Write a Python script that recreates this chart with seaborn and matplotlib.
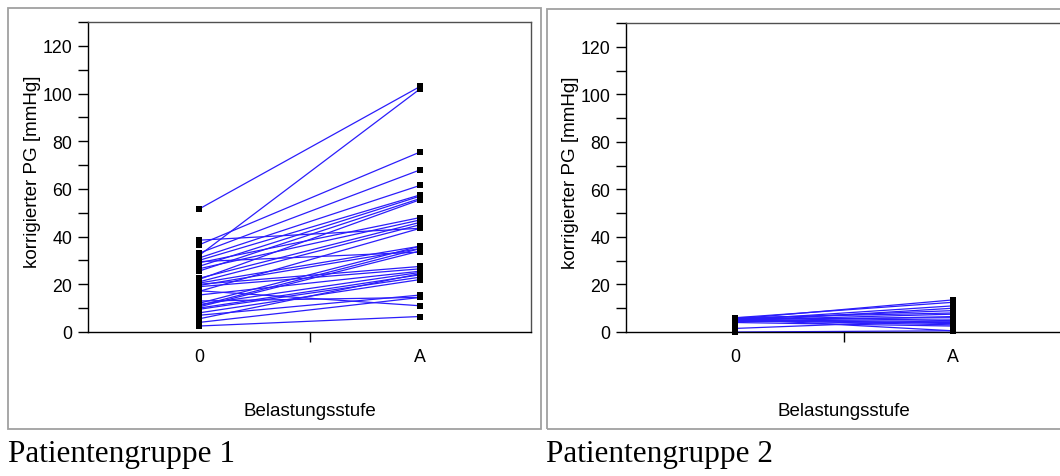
import pandas as pd
import matplotlib
matplotlib.use('Agg')
import matplotlib.pyplot as plt
from matplotlib.patches import Rectangle
from matplotlib.ticker import MultipleLocator
import seaborn as sns

W, H = 1060, 477

stages = ['0', 'A']
captions = ['Patientengruppe 1', 'Patientengruppe 2']

# korrigierter PG [mmHg] je Patient: Ruhe (0) und Belastung (A)
group1_rest = [51.5, 32.0, 38.5, 36.5, 33.0, 31.0, 30.0, 27.5, 25.5, 22.0, 29.0, 26.5,
               22.5, 21.0, 17.0, 29.5, 20.5, 19.5, 12.0, 11.0, 10.5, 20.0, 19.0, 15.5,
               11.5, 10.0, 9.5, 8.0, 17.3, 13.0, 7.0, 4.0, 2.5, 5.5]
group1_load = [103.0, 102.0, 43.5, 75.5, 68.0, 61.5, 57.5, 57.0, 56.0, 55.5, 48.0, 47.0,
               46.0, 45.0, 43.5, 33.5, 36.0, 35.0, 36.0, 35.0, 34.0, 27.5, 26.5, 25.5,
               25.0, 24.0, 23.0, 22.0, 11.0, 14.5, 15.5, 14.5, 6.5, 24.5]

group2_rest = [5.5, 6.0, 5.0, 4.5, 5.5, 6.0, 5.0, 4.5, 5.5, 6.0, 5.0, 4.5,
               5.5, 5.0, 1.5, 0.0, 5.5, 4.0]
group2_load = [13.5, 12.5, 11.0, 10.0, 9.0, 8.0, 7.5, 6.5, 6.0, 5.0, 4.5, 4.0,
               3.5, 3.0, 5.0, 0.5, 0.5, 2.5]

LINE = '#2b1dfb'


def long_form(rest, load):
    rows = []
    for pid, (r, l) in enumerate(zip(rest, load)):
        rows.append({'patient': pid, 'stage': 0, 'pg': r})
        rows.append({'patient': pid, 'stage': 1, 'pg': l})
    return pd.DataFrame(rows)


def draw_panel(ax, df):
    sns.lineplot(data=df, x='stage', y='pg', units='patient', estimator=None,
                 color=LINE, lw=0.9, ax=ax, legend=False)
    sns.scatterplot(data=df, x='stage', y='pg', marker='s', s=16, color='black',
                    edgecolor='black', linewidth=0, zorder=3, clip_on=False,
                    ax=ax, legend=False)

    ax.set_xlim(-0.5, 1.5)
    ax.set_ylim(0, 130)

    # y axis: labels every 20, small ticks every 10
    ax.set_yticks(range(0, 121, 20))
    ax.yaxis.set_minor_locator(MultipleLocator(10))
    ax.tick_params(axis='y', which='both', left=True, direction='out',
                   length=7.5, width=1, color='black', labelcolor='black',
                   labelsize=12.8, pad=4)

    # x axis: category labels without marks, one mark between them
    ax.set_xticks([0, 1])
    ax.set_xticklabels(stages)
    ax.set_xticks([0.5], minor=True)
    ax.tick_params(axis='x', which='major', length=0, pad=11.5, labelsize=12.8,
                   labelcolor='black')
    ax.tick_params(axis='x', which='minor', bottom=True, direction='out',
                   length=7, width=1, color='black')

    ax.set_xlabel('Belastungsstufe', fontsize=13.5, color='black')
    ax.set_ylabel('korrigierter PG [mmHg]', fontsize=13.5, color='black')
    ax.xaxis.set_label_coords(0.5, -0.225)
    ax.yaxis.set_label_coords(-0.107, 0.52)

    for side in ['left', 'bottom']:
        ax.spines[side].set_color('black')
        ax.spines[side].set_linewidth(1)
    for side in ['top', 'right']:
        ax.spines[side].set_color('#505050')
        ax.spines[side].set_linewidth(1)


sns.set_theme(style='white')
plt.rcParams['font.family'] = ['Liberation Sans', 'DejaVu Sans']
plt.rcParams['text.color'] = 'black'

fig = plt.figure(figsize=(W / 100, H / 100), dpi=100)

ax1 = fig.add_axes([88 / W, 1 - 333 / H, (531 - 88) / W, (333 - 23) / H])
ax2 = fig.add_axes([626 / W, 1 - 333 / H, (1062 - 626) / W, (333 - 24) / H])

draw_panel(ax1, long_form(group1_rest, group1_load))
draw_panel(ax2, long_form(group2_rest, group2_load))

# grey frames round each panel
fig.add_artist(Rectangle((8 / W, 1 - 430 / H), (541 - 8) / W, (430 - 9) / H,
                         transform=fig.transFigure, fill=False, ec='#a0a0a0', lw=1.3))
fig.add_artist(Rectangle((547 / W, 1 - 430 / H), (1075 - 547) / W, (430 - 10) / H,
                         transform=fig.transFigure, fill=False, ec='#a0a0a0', lw=1.3))

fig.text(8 / W, 1 - 455 / H, captions[0], family=['Liberation Serif', 'DejaVu Serif'],
         fontsize=22.5, va='center', ha='left', color='black')
fig.text(546 / W, 1 - 455 / H, captions[1], family=['Liberation Serif', 'DejaVu Serif'],
         fontsize=22.5, va='center', ha='left', color='black')

fig.savefig('out.png', dpi=100)
